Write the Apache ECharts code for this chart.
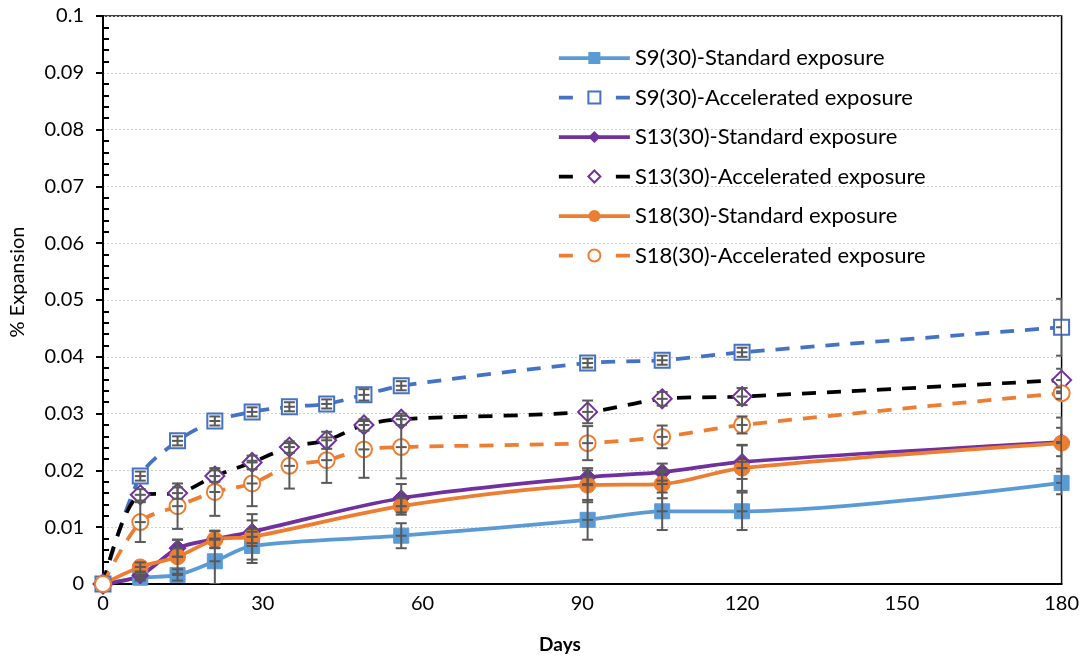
<!DOCTYPE html>
<html>
<head>
<meta charset="utf-8">
<script src="https://cdn.jsdelivr.net/npm/echarts@6/dist/echarts.min.js"></script>
<style>
html,body{margin:0;padding:0;background:#fff;}
#chart{width:1082px;height:659px;}
</style>
</head>
<body>
<div id="chart"></div>
<script>
// ---- data ----
const daysStd = [0, 7, 14, 21, 28, 56, 91, 105, 120, 180];
const daysAcc = [0, 7, 14, 21, 28, 35, 42, 49, 56, 91, 105, 120, 180];

const s9Std     = [0, 0.0011, 0.0016, 0.0040, 0.0067, 0.0085, 0.0113, 0.0128, 0.0128, 0.0178];
const s9StdErr  = [0, 0.0005, 0.0010, 0.0040, 0.0030, 0.0022, 0.0035, 0.0033, 0.0033, 0.0020];
const s9Acc     = [0, 0.0190, 0.0252, 0.0287, 0.0303, 0.0312, 0.0317, 0.0333, 0.0349, 0.0389, 0.0394, 0.0408, 0.0452];
const s9AccErr  = [0, 0.0008, 0.0008, 0.0008, 0.0008, 0.0008, 0.0008, 0.0010, 0.0008, 0.0008, 0.0008, 0.0008, 0.0050];
const s13Std    = [0, 0.0015, 0.0063, 0.0079, 0.0092, 0.0151, 0.0188, 0.0197, 0.0215, 0.0250];
const s13StdErr = [0, 0.0005, 0.0015, 0.0015, 0.0020, 0.0025, 0.0012, 0.0015, 0.0030, 0.0025];
const s13Acc    = [0, 0.0157, 0.0160, 0.0190, 0.0214, 0.0241, 0.0253, 0.0280, 0.0290, 0.0303, 0.0326, 0.0330, 0.0359];
const s13AccErr = [0, 0.0010, 0.0010, 0.0010, 0.0012, 0.0010, 0.0015, 0.0010, 0.0010, 0.0020, 0.0012, 0.0015, 0.0020];
const s18Std    = [0, 0.0030, 0.0048, 0.0078, 0.0083, 0.0137, 0.0174, 0.0176, 0.0204, 0.0248];
const s18StdErr = [0, 0.0008, 0.0030, 0.0015, 0.0040, 0.0015, 0.0030, 0.0025, 0.0040, 0.0045];
const s18Acc    = [0, 0.0109, 0.0137, 0.0162, 0.0177, 0.0208, 0.0218, 0.0237, 0.0241, 0.0248, 0.0259, 0.0280, 0.0336];
const s18AccErr = [0, 0.0035, 0.0040, 0.0042, 0.0040, 0.0040, 0.0040, 0.0050, 0.0055, 0.0030, 0.0020, 0.0015, 0.0010];

const seriesNames = [
  'S9(30)-Standard exposure',
  'S9(30)-Accelerated exposure',
  'S13(30)-Standard exposure',
  'S13(30)-Accelerated exposure',
  'S18(30)-Standard exposure',
  'S18(30)-Accelerated exposure'
];
const xTicks = [0, 30, 60, 90, 120, 150, 180];
const xTitle = 'Days';
const yTitle = '% Expansion';

// ---- helpers ----
const FONT = 'Lato, "Open Sans", sans-serif';
const DASH = [14, 11];
const LEGEND_DASH = [14, 43];
const LW = 3.75;
const pairs = (xs, ys) => xs.map((x, i) => [x, ys[i]]);
const triples = (xs, ys, es) => xs.map((x, i) => [x, ys[i], es[i]]);

function errRender(params, api) {
  const x = api.value(0), y = api.value(1), e = api.value(2);
  if (!e) return null;
  const t = api.coord([x, y + e]);
  const b = api.coord([x, y - e]);
  const c = api.coord([x, y]);
  const w = 5.5;
  const st = { stroke: '#595959', lineWidth: 2 };
  return {
    type: 'group',
    children: [
      { type: 'line', shape: { x1: t[0], y1: t[1], x2: b[0], y2: b[1] }, style: st },
      { type: 'line', shape: { x1: t[0] - w, y1: t[1], x2: t[0] + w, y2: t[1] }, style: st },
      { type: 'line', shape: { x1: b[0] - w, y1: b[1], x2: b[0] + w, y2: b[1] }, style: st },
      { type: 'line', shape: { x1: c[0] - w, y1: c[1], x2: c[0] + w, y2: c[1] }, style: st }
    ]
  };
}
function errSeries(xs, ys, es) {
  return {
    type: 'custom', coordinateSystem: 'cartesian2d', xAxisIndex: 0, yAxisIndex: 0,
    renderItem: errRender, data: triples(xs, ys, es), z: 5, silent: true,
    encode: { x: 0, y: 1 }, clip: true
  };
}
function lineSeries(name, xs, ys, opt) {
  return Object.assign({
    name, type: 'line', data: pairs(xs, ys), smooth: 0.3, z: 3,
    showAllSymbol: true
  }, opt);
}

const legendData = seriesNames.map((n, i) =>
  i % 2 === 1 ? { name: n, lineStyle: { type: LEGEND_DASH } } : { name: n });

const chart = echarts.init(document.getElementById('chart'), null, { renderer: 'canvas' });
chart.setOption({
  animation: false,
  backgroundColor: '#fff',
  grid: { left: 103, right: 17, top: 16, bottom: 75, show: true, borderColor: '#000', borderWidth: 1.5, backgroundColor: 'transparent' },
  legend: {
    data: legendData,
    orient: 'vertical', left: 557, top: 47, padding: 0,
    itemWidth: 71, itemHeight: 15, itemGap: 17.5,
    lineStyle: { width: LW },
    textStyle: { fontFamily: FONT, fontSize: 22, color: '#000', lineHeight: 22 }
  },
  graphic: [
    { type: 'text', x: 18, y: 282, rotation: Math.PI / 2,
      style: { text: yTitle, fontFamily: FONT, fontSize: 20, fill: '#000', align: 'center', verticalAlign: 'middle' } },
    { type: 'text', x: 560, y: 645,
      style: { text: xTitle, fontFamily: FONT, fontSize: 19, fontWeight: 'bold', fill: '#000', align: 'center', verticalAlign: 'middle' } }
  ],
  xAxis: {
    type: 'value', min: 0, max: 180, interval: 30,
    axisLine: { show: true, onZero: false, lineStyle: { color: '#000', width: 2 } },
    axisTick: { show: false },
    axisLabel: { fontFamily: FONT, fontSize: 20, color: '#000', margin: 10,
      customValues: xTicks, formatter: v => String(v) },
    splitLine: { show: false }
  },
  yAxis: [{
    type: 'value', min: 0, max: 0.1, interval: 0.01,
    axisLine: { show: true, onZero: false, lineStyle: { color: '#000', width: 2 } },
    axisTick: { show: true, inside: false, length: 7, lineStyle: { color: '#000', width: 2 } },
    axisLabel: { fontFamily: FONT, fontSize: 20, color: '#000', margin: 19 },
    splitLine: { show: true, lineStyle: { color: '#d0d0d0', type: [2, 2], width: 1 } }
  }, {
    type: 'value', min: 0, max: 0.1, interval: 0.01, position: 'left', offset: 0,
    axisLine: { show: false },
    axisTick: { show: false, inside: true },
    minorTick: { show: true, splitNumber: 5, length: 6, lineStyle: { color: '#000', width: 2 } },
    axisLabel: { show: false },
    splitLine: { show: false }
  }],
  series: [
    lineSeries(seriesNames[0], daysStd, s9Std, {
      symbol: 'rect', symbolSize: 15,
      lineStyle: { color: '#5B9BD5', width: LW },
      itemStyle: { color: '#5B9BD5', borderColor: '#5B9BD5' }
    }),
    lineSeries(seriesNames[1], daysAcc, s9Acc, {
      symbol: 'rect', symbolSize: 15,
      lineStyle: { color: '#4472C4', width: LW, type: DASH },
      itemStyle: { color: '#fff', borderColor: '#4472C4', borderWidth: 2 }
    }),
    lineSeries(seriesNames[2], daysStd, s13Std, {
      symbol: 'diamond', symbolSize: 17,
      lineStyle: { color: '#7030A0', width: LW },
      itemStyle: { color: '#7030A0', borderColor: '#7030A0' }
    }),
    lineSeries(seriesNames[3], daysAcc, s13Acc, {
      symbol: 'diamond', symbolSize: 19,
      lineStyle: { color: '#000', width: LW, type: DASH },
      itemStyle: { color: '#fff', borderColor: '#7030A0', borderWidth: 2 }
    }),
    lineSeries(seriesNames[4], daysStd, s18Std, {
      symbol: 'circle', symbolSize: 16,
      lineStyle: { color: '#ED7D31', width: LW },
      itemStyle: { color: '#ED7D31', borderColor: '#ED7D31' }
    }),
    lineSeries(seriesNames[5], daysAcc, s18Acc, {
      symbol: 'circle', symbolSize: 16,
      lineStyle: { color: '#ED7D31', width: LW, type: DASH },
      itemStyle: { color: '#fff', borderColor: '#ED7D31', borderWidth: 2 }
    }),
    errSeries(daysStd, s9Std, s9StdErr),
    errSeries(daysAcc, s9Acc, s9AccErr),
    errSeries(daysStd, s13Std, s13StdErr),
    errSeries(daysAcc, s13Acc, s13AccErr),
    errSeries(daysStd, s18Std, s18StdErr),
    errSeries(daysAcc, s18Acc, s18AccErr)
  ]
});
</script>
</body>
</html>
